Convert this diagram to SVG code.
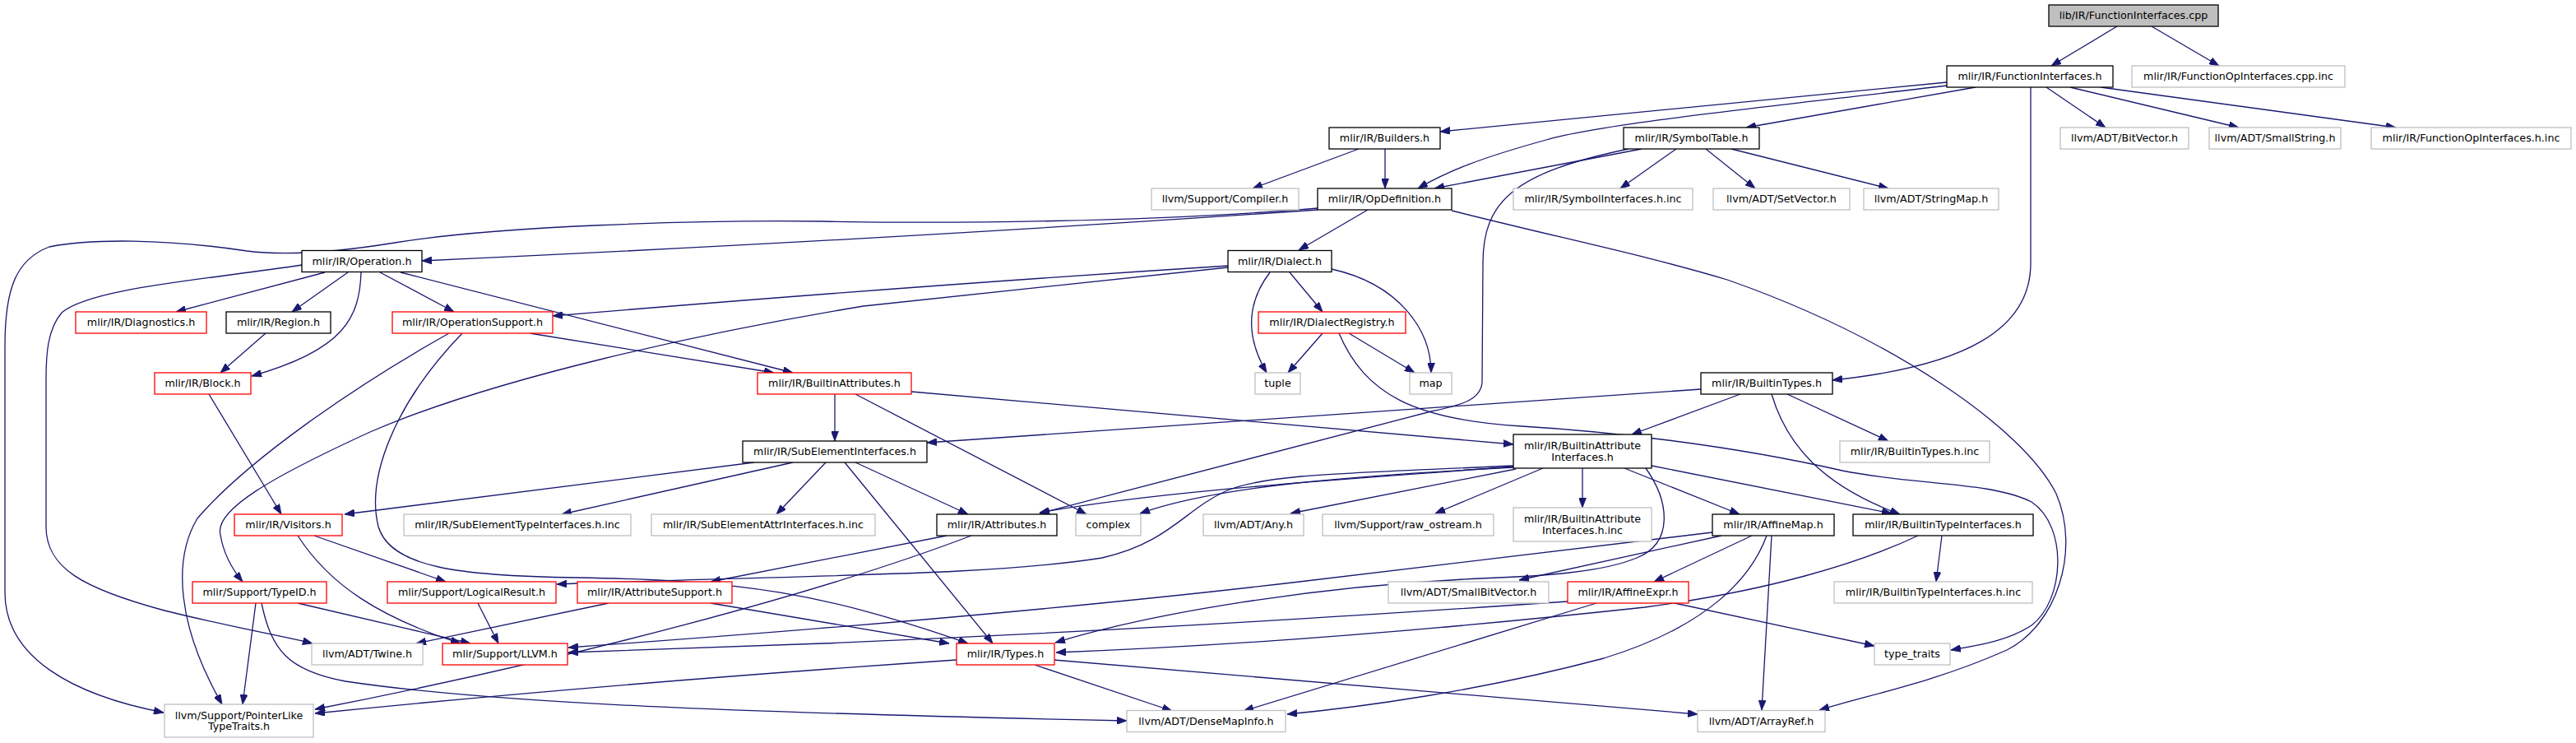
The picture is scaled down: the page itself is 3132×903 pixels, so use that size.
<svg xmlns="http://www.w3.org/2000/svg" width="3132" height="903" viewBox="0 0 3132 903">
<style>
rect{fill:#fff;stroke-width:1.3}
.k rect{stroke:#000}
.r rect{stroke:#ff0000}
.g rect{stroke:#bfbfbf}
.s rect{fill:#bfbfbf;stroke:#000}
text{font-family:"DejaVu Sans","Liberation Sans",sans-serif;font-size:12.7px;text-anchor:middle;fill:#000}
#edges path{fill:none;stroke:#191970;stroke-width:1.3;marker-end:url(#a)}
</style>
<defs>
<marker id="a" markerUnits="userSpaceOnUse" markerWidth="13" markerHeight="9" refX="12" refY="4.5" orient="auto" viewBox="0 0 13 9">
<path d="M0,0 L12,4.5 L0,9 z" fill="#191970" stroke="#191970" stroke-width="0.8"/>
</marker>
</defs>
<rect x="0" y="0" width="3132" height="903" fill="#fff" stroke="none"/>
<g id="edges">
<path d="M2574,32 L2494,80"/>
<path d="M2616,32 L2698,80"/>
<path d="M2367,100 L1751,160"/>
<path d="M2367,104 C2150,130 1950,150 1880,170 C1800,192 1760,208 1724,229"/>
<path d="M2402,106 L2123,155"/>
<path d="M2469,106 L2469,320 C2469,400 2390,445 2228,462"/>
<path d="M2488,106 L2560,155"/>
<path d="M2517,106 L2722,155"/>
<path d="M2554,106 L2913,155"/>
<path d="M1652,181 L1523,229"/>
<path d="M1684,181 L1684,229"/>
<path d="M1996,181 L1744,229"/>
<path d="M2038,181 L1970,229"/>
<path d="M2074,181 L2134,229"/>
<path d="M2105,181 L2296,229"/>
<path d="M1980,181 C1840,210 1803,245 1803,320 L1802,465 C1800,485 1780,492 1740,500 L1264,624"/>
<path d="M1602,255 Q1100,290 513,317"/>
<path d="M1663,255 L1579,304"/>
<path d="M1602,253 C1400,270 1150,272 1000,269 C850,267 600,275 480,295 C400,308 340,310 300,305 C200,290 110,290 60,300 C20,315 6,350 6,420 L6,720 C6,800 90,845 199,866"/>
<path d="M1765,256 C1900,290 2000,310 2100,340 C2300,410 2460,520 2500,600 C2530,670 2500,760 2440,790 C2350,830 2270,845 2212,863"/>
<path d="M1628,405 C1660,480 1720,510 1850,518 C1950,524 2100,540 2240,572 C2330,590 2420,585 2470,610 C2515,640 2510,730 2470,760 C2440,780 2400,785 2372,790"/>
<path d="M395,331 L214,379"/>
<path d="M423,331 L355,379"/>
<path d="M439,331 C437,385 420,425 306,457"/>
<path d="M462,331 L552,379"/>
<path d="M487,331 L964,453"/>
<path d="M367,322 C250,340 110,350 75,380 C58,400 56,430 56,460 L56,640 C56,690 100,715 200,742 C280,762 340,772 380,782"/>
<path d="M1493,323 Q1100,348 672,384"/>
<path d="M1493,325 L1050,372 C850,405 600,460 450,525 C330,580 260,620 268,650 C272,675 285,695 295,707"/>
<path d="M1568,331 L1608,379"/>
<path d="M1544,331 C1518,365 1512,405 1540,453"/>
<path d="M1619,327 C1700,345 1740,400 1740,453"/>
<path d="M1608,405 L1566,453"/>
<path d="M1640,405 L1720,453"/>
<path d="M323,405 L268,453"/>
<path d="M254,479 L342,625"/>
<path d="M644,405 L941,453"/>
<path d="M546,405 C430,470 300,560 240,630 C210,680 215,760 270,856"/>
<path d="M562,405 C480,490 445,580 460,640 C475,690 560,700 700,702 C900,705 1000,720 1177,782"/>
<path d="M1015,479 L1015,536"/>
<path d="M1040,479 L1321,625"/>
<path d="M1108,476 L1840,540"/>
<path d="M2068,473 L1127,538"/>
<path d="M2116,479 L1984,528"/>
<path d="M2154,479 C2172,540 2215,590 2310,625"/>
<path d="M2173,479 L2296,536"/>
<path d="M917,562 L419,625"/>
<path d="M964,562 L683,625"/>
<path d="M1004,562 L944,625"/>
<path d="M1040,562 L1177,625"/>
<path d="M1027,562 L1207,782"/>
<path d="M1840,567 C1650,582 1420,595 1264,623"/>
<path d="M1840,568 C1650,578 1480,590 1386,624"/>
<path d="M1840,566 C1650,575 1540,575 1490,597 C1440,620 1420,660 1340,678 C1200,700 1000,698 677,710"/>
<path d="M1843,570 L1569,624"/>
<path d="M1876,569 L1745,624"/>
<path d="M1924,569 L1924,617"/>
<path d="M1975,569 L2115,625"/>
<path d="M2008,566 L2300,624"/>
<path d="M2001,569 C2030,610 2035,660 1990,678 C1950,695 1880,700 1800,703 C1600,712 1400,745 1283,781"/>
<path d="M1151,651 L864,707"/>
<path d="M1181,651 C1000,720 700,800 383,862"/>
<path d="M2130,651 L2011,707"/>
<path d="M2148,651 C2130,700 2080,760 1950,800 C1800,840 1650,860 1565,868"/>
<path d="M2154,651 L2142,863"/>
<path d="M2093,651 L1847,705"/>
<path d="M2082,647 L1580,707 C1300,740 1000,765 691,787"/>
<path d="M2361,651 L2354,707"/>
<path d="M2332,651 C2260,685 2150,718 2000,738 C1750,765 1500,785 1284,793"/>
<path d="M1906,731 C1700,745 1400,765 1000,782 L691,793"/>
<path d="M1941,733 L1512,864"/>
<path d="M2036,733 L2279,785"/>
<path d="M1258,808 L1425,864"/>
<path d="M1281,802 L2064,868"/>
<path d="M1163,802 C900,820 600,845 383,867"/>
<path d="M311,733 L295,856"/>
<path d="M362,733 L572,782"/>
<path d="M318,733 C330,790 350,815 420,828 C600,855 900,866 1370,876"/>
<path d="M382,651 L542,707"/>
<path d="M362,651 C400,710 460,750 560,782"/>
<path d="M581,733 L606,782"/>
<path d="M740,733 L506,782"/>
<path d="M864,733 L1154,782"/>
</g>
<g id="n_cpp" class="s"><rect x="2491" y="6" width="206" height="26"/><text x="2594" y="23.4">lib/IR/FunctionInterfaces.cpp</text></g>
<g id="n_fih" class="k"><rect x="2367" y="80" width="202" height="26"/><text x="2468" y="97.4">mlir/IR/FunctionInterfaces.h</text></g>
<g id="n_foicpp" class="g"><rect x="2592" y="80" width="259" height="26"/><text x="2721.5" y="97.4">mlir/IR/FunctionOpInterfaces.cpp.inc</text></g>
<g id="n_builders" class="k"><rect x="1616" y="155" width="135" height="26"/><text x="1683.5" y="172.4">mlir/IR/Builders.h</text></g>
<g id="n_symtab" class="k"><rect x="1974" y="155" width="165" height="26"/><text x="2056.5" y="172.4">mlir/IR/SymbolTable.h</text></g>
<g id="n_bitvec" class="g"><rect x="2505" y="155" width="156" height="26"/><text x="2583" y="172.4">llvm/ADT/BitVector.h</text></g>
<g id="n_smallstr" class="g"><rect x="2686" y="155" width="160" height="26"/><text x="2766" y="172.4">llvm/ADT/SmallString.h</text></g>
<g id="n_foihinc" class="g"><rect x="2883" y="155" width="243" height="26"/><text x="3004.5" y="172.4">mlir/IR/FunctionOpInterfaces.h.inc</text></g>
<g id="n_compiler" class="g"><rect x="1400" y="229" width="179" height="26"/><text x="1489.5" y="246.4">llvm/Support/Compiler.h</text></g>
<g id="n_opdef" class="k"><rect x="1602" y="229" width="163" height="26"/><text x="1683.5" y="246.4">mlir/IR/OpDefinition.h</text></g>
<g id="n_syminc" class="g"><rect x="1840" y="229" width="218" height="26"/><text x="1949" y="246.4">mlir/IR/SymbolInterfaces.h.inc</text></g>
<g id="n_setvec" class="g"><rect x="2083" y="229" width="166" height="26"/><text x="2166" y="246.4">llvm/ADT/SetVector.h</text></g>
<g id="n_strmap" class="g"><rect x="2266" y="229" width="164" height="26"/><text x="2348" y="246.4">llvm/ADT/StringMap.h</text></g>
<g id="n_operation" class="k"><rect x="367" y="304.5" width="146" height="26"/><text x="440" y="321.9">mlir/IR/Operation.h</text></g>
<g id="n_dialect" class="k"><rect x="1493" y="304.5" width="126" height="26"/><text x="1556" y="321.9">mlir/IR/Dialect.h</text></g>
<g id="n_diag" class="r"><rect x="92" y="379" width="159" height="26"/><text x="171.5" y="396.4">mlir/IR/Diagnostics.h</text></g>
<g id="n_region" class="k"><rect x="275" y="379" width="127" height="26"/><text x="338.5" y="396.4">mlir/IR/Region.h</text></g>
<g id="n_opsupport" class="r"><rect x="477" y="379" width="195" height="26"/><text x="574.5" y="396.4">mlir/IR/OperationSupport.h</text></g>
<g id="n_dialreg" class="r"><rect x="1530" y="379" width="179" height="26"/><text x="1619.5" y="396.4">mlir/IR/DialectRegistry.h</text></g>
<g id="n_block" class="r"><rect x="188" y="453" width="117" height="26"/><text x="246.5" y="470.4">mlir/IR/Block.h</text></g>
<g id="n_battrs" class="r"><rect x="921" y="453" width="187" height="26"/><text x="1014.5" y="470.4">mlir/IR/BuiltinAttributes.h</text></g>
<g id="n_tuple" class="g"><rect x="1526" y="453" width="55" height="26"/><text x="1553.5" y="470.4">tuple</text></g>
<g id="n_map" class="g"><rect x="1714" y="453" width="51" height="26"/><text x="1739.5" y="470.4">map</text></g>
<g id="n_btypes" class="k"><rect x="2068" y="453" width="160" height="26"/><text x="2148" y="470.4">mlir/IR/BuiltinTypes.h</text></g>
<g id="n_sei" class="k"><rect x="903" y="536" width="224" height="26"/><text x="1015" y="553.4">mlir/IR/SubElementInterfaces.h</text></g>
<g id="n_bai" class="k"><rect x="1840" y="528" width="168" height="41"/><text x="1924" y="546.3">mlir/IR/BuiltinAttribute</text><text x="1924" y="559.8">Interfaces.h</text></g>
<g id="n_btypesinc" class="g"><rect x="2237" y="536" width="182" height="26"/><text x="2328" y="553.4">mlir/IR/BuiltinTypes.h.inc</text></g>
<g id="n_visitors" class="r"><rect x="285" y="625" width="131" height="26"/><text x="350.5" y="642.4">mlir/IR/Visitors.h</text></g>
<g id="n_setiinc" class="g"><rect x="491" y="625" width="276" height="26"/><text x="629" y="642.4">mlir/IR/SubElementTypeInterfaces.h.inc</text></g>
<g id="n_seaiinc" class="g"><rect x="792" y="625" width="272" height="26"/><text x="928" y="642.4">mlir/IR/SubElementAttrInterfaces.h.inc</text></g>
<g id="n_attrs" class="k"><rect x="1139" y="625" width="146" height="26"/><text x="1212" y="642.4">mlir/IR/Attributes.h</text></g>
<g id="n_complex" class="g"><rect x="1308" y="625" width="79" height="26"/><text x="1347.5" y="642.4">complex</text></g>
<g id="n_any" class="g"><rect x="1463" y="625" width="122" height="26"/><text x="1524" y="642.4">llvm/ADT/Any.h</text></g>
<g id="n_rawos" class="g"><rect x="1608" y="625" width="208" height="26"/><text x="1712" y="642.4">llvm/Support/raw_ostream.h</text></g>
<g id="n_baiinc" class="g"><rect x="1840" y="617" width="168" height="41"/><text x="1924" y="635.3">mlir/IR/BuiltinAttribute</text><text x="1924" y="648.8">Interfaces.h.inc</text></g>
<g id="n_affmap" class="k"><rect x="2082" y="625" width="148" height="26"/><text x="2156" y="642.4">mlir/IR/AffineMap.h</text></g>
<g id="n_bti" class="k"><rect x="2253" y="625" width="219" height="26"/><text x="2362.5" y="642.4">mlir/IR/BuiltinTypeInterfaces.h</text></g>
<g id="n_typeid" class="r"><rect x="234" y="707" width="163" height="26"/><text x="315.5" y="724.4">mlir/Support/TypeID.h</text></g>
<g id="n_logres" class="r"><rect x="471" y="707" width="205" height="26"/><text x="573.5" y="724.4">mlir/Support/LogicalResult.h</text></g>
<g id="n_attrsup" class="r"><rect x="702" y="707" width="188" height="26"/><text x="796" y="724.4">mlir/IR/AttributeSupport.h</text></g>
<g id="n_sbv" class="g"><rect x="1688" y="707" width="195" height="26"/><text x="1785.5" y="724.4">llvm/ADT/SmallBitVector.h</text></g>
<g id="n_affexpr" class="r"><rect x="1906" y="707" width="147" height="26"/><text x="1979.5" y="724.4">mlir/IR/AffineExpr.h</text></g>
<g id="n_btiinc" class="g"><rect x="2230" y="707" width="241" height="26"/><text x="2350.5" y="724.4">mlir/IR/BuiltinTypeInterfaces.h.inc</text></g>
<g id="n_twine" class="g"><rect x="379" y="782" width="135" height="26"/><text x="446.5" y="799.4">llvm/ADT/Twine.h</text></g>
<g id="n_llvm" class="r"><rect x="538" y="782" width="152" height="26"/><text x="614" y="799.4">mlir/Support/LLVM.h</text></g>
<g id="n_types" class="r"><rect x="1163" y="782" width="119" height="26"/><text x="1222.5" y="799.4">mlir/IR/Types.h</text></g>
<g id="n_typetraits" class="g"><rect x="2279" y="782" width="92" height="26"/><text x="2325" y="799.4">type_traits</text></g>
<g id="n_ptrlike" class="g"><rect x="200" y="856" width="181" height="40"/><text x="290.5" y="873.8">llvm/Support/PointerLike</text><text x="290.5" y="887.3">TypeTraits.h</text></g>
<g id="n_dmi" class="g"><rect x="1370" y="863.5" width="193" height="26"/><text x="1466.5" y="880.9">llvm/ADT/DenseMapInfo.h</text></g>
<g id="n_arrayref" class="g"><rect x="2064" y="863.5" width="155" height="26"/><text x="2141.5" y="880.9">llvm/ADT/ArrayRef.h</text></g>
</svg>
